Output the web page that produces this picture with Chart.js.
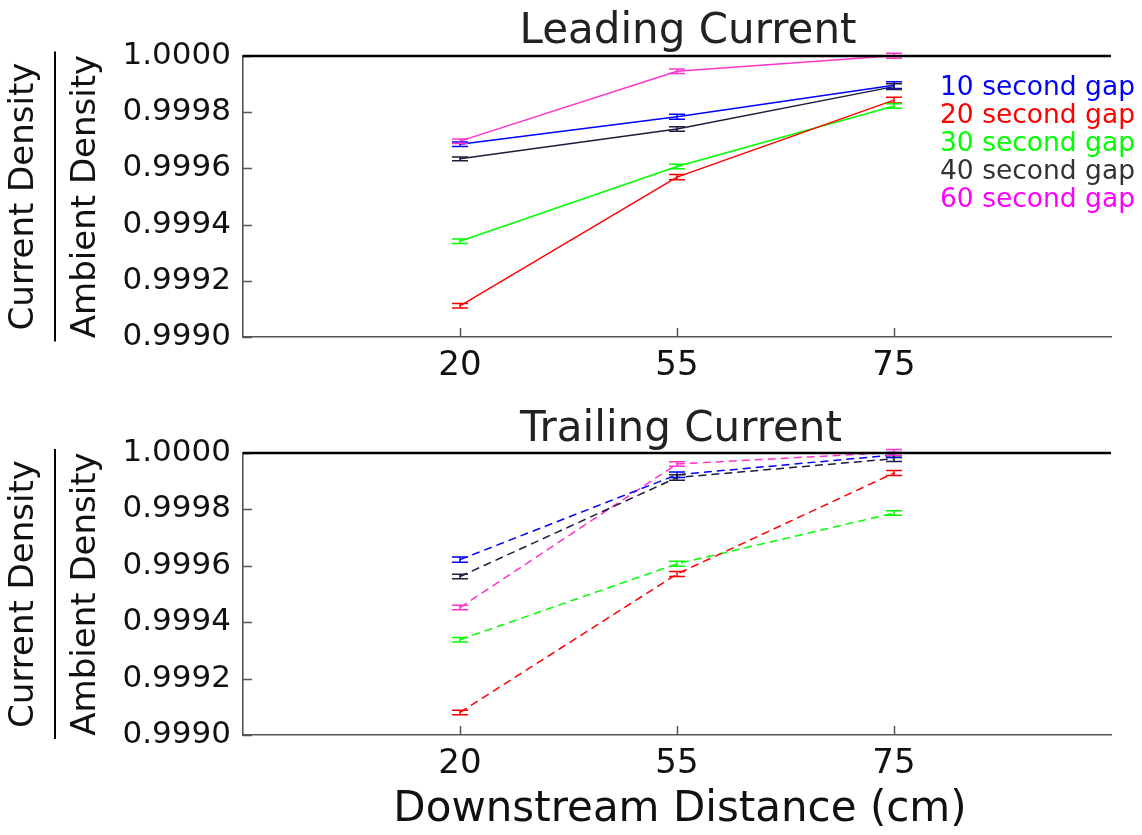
<!DOCTYPE html>
<html>
<head>
<meta charset="utf-8">
<script src="https://cdn.jsdelivr.net/npm/chart.js@4.4.1/dist/chart.umd.min.js"></script>
<style>
  html, body { margin: 0; padding: 0; background: #fff; }
  #wrap { position: relative; width: 1142px; height: 835px; overflow: hidden; }
  .panel { position: absolute; left: 0; width: 1142px; }
</style>
</head>
<body>
<div id="wrap">
  <div class="panel" style="top:0;height:400px"><canvas id="leading" width="1142" height="400"></canvas></div>
  <div class="panel" style="top:400px;height:435px"><canvas id="trailing" width="1142" height="435"></canvas></div>
</div>
<script>
// x categories (downstream distance, cm) and y tick labels
const distances = ['20', '55', '75'];
const yTicks = [0.9990, 0.9992, 0.9994, 0.9996, 0.9998, 1.0000];
const yTickLabels = ['0.9990', '0.9992', '0.9994', '0.9996', '0.9998', '1.0000'];
const gapLabels = ['10 second gap', '20 second gap', '30 second gap', '40 second gap', '60 second gap'];

// Leading current: density ratio at 20, 55, 75 cm
const leading10 = [0.999686, 0.999784, 0.999896];
const leading20 = [0.999111, 0.999569, 0.999843];
const leading30 = [0.999341, 0.999607, 0.999822];
const leading40 = [0.999634, 0.999740, 0.999891];
const leading60 = [0.999697, 0.999946, 1.000001];
const leadingErr10 = [0.000008, 0.000009, 0.000012];
const leadingErr20 = [0.000008, 0.000009, 0.000010];
const leadingErr30 = [0.000008, 0.000008, 0.000008];
const leadingErr40 = [0.000007, 0.000008, 0.000010];
const leadingErr60 = [0.000008, 0.000008, 0.000009];

// Trailing current
const trailing10 = [0.999622, 0.999923, 0.999993];
const trailing20 = [0.999080, 0.999571, 0.999929];
const trailing30 = [0.999338, 0.999607, 0.999787];
const trailing40 = [0.999562, 0.999913, 0.999980];
const trailing60 = [0.999452, 0.999961, 1.000002];
const trailingErr10 = [0.000009, 0.000010, 0.000009];
const trailingErr20 = [0.000008, 0.000009, 0.000009];
const trailingErr30 = [0.000008, 0.000009, 0.000008];
const trailingErr40 = [0.000008, 0.000010, 0.000010];
const trailingErr60 = [0.000008, 0.000008, 0.000010];

const lineColors = ['#0000ff', '#ff0000', '#00ff00', '#1c1c3c', '#ff33cc'];
const legendColors = ['#0000ff', '#ff0000', '#00ff00', '#333333', '#ff00ff'];
const FONT = "'DejaVu Sans', Verdana, sans-serif";
const INK = '#111';

// error bars, frame line at 1.0, inward ticks and all free text
const decor = {
  id: 'decor',
  afterDatasetsDraw(chart, args, opts) {
    const { ctx, chartArea: a, scales: { x, y } } = chart;
    ctx.save();

    chart.data.datasets.forEach(ds => {
      ctx.strokeStyle = ds.borderColor;
      ctx.lineWidth = 1.5;
      ctx.setLineDash([]);
      ds.data.forEach((p, j) => {
        const px = x.getPixelForValue(p.x);
        const top = y.getPixelForValue(p.y + ds.err[j]);
        const bot = y.getPixelForValue(p.y - ds.err[j]);
        ctx.beginPath();
        ctx.moveTo(px, top); ctx.lineTo(px, bot);
        ctx.moveTo(px - 8, top); ctx.lineTo(px + 8, top);
        ctx.moveTo(px - 8, bot); ctx.lineTo(px + 8, bot);
        ctx.stroke();
      });
    });

    // inward tick marks
    ctx.strokeStyle = '#555';
    ctx.lineWidth = 1.5;
    ctx.beginPath();
    y.ticks.forEach(t => {
      const py = Math.round(y.getPixelForValue(t.value)) + 0.5;
      ctx.moveTo(a.left, py); ctx.lineTo(a.left + 9, py);
    });
    x.ticks.forEach(t => {
      const px = Math.round(x.getPixelForValue(t.value)) + 0.5;
      ctx.moveTo(px, a.bottom); ctx.lineTo(px, a.bottom - 9);
    });
    ctx.stroke();

    // black line at 1.0000
    const yOne = y.getPixelForValue(1.0);
    ctx.strokeStyle = '#000';
    ctx.lineWidth = 2.6;
    ctx.beginPath();
    ctx.moveTo(a.left, yOne); ctx.lineTo(a.right, yOne);
    ctx.stroke();

    // title
    ctx.fillStyle = '#222';
    ctx.font = '42px ' + FONT;
    ctx.textAlign = 'center';
    ctx.textBaseline = 'alphabetic';
    ctx.fillText(opts.title, opts.titleX, opts.titleY);

    // y label as a fraction
    const cy = (a.top + a.bottom) / 2;
    ctx.fillStyle = INK;
    ctx.font = '34px ' + FONT;
    ctx.textBaseline = 'middle';
    ctx.save();
    ctx.translate(24, cy); ctx.rotate(-Math.PI / 2);
    ctx.fillText('Current Density', 0, 0);
    ctx.restore();
    ctx.save();
    ctx.translate(86, cy); ctx.rotate(-Math.PI / 2);
    ctx.fillText('Ambient Density', 0, 0);
    ctx.restore();
    ctx.strokeStyle = '#000';
    ctx.lineWidth = 2;
    ctx.beginPath();
    ctx.moveTo(55, cy - 145); ctx.lineTo(55, cy + 145);
    ctx.stroke();

    if (opts.legend) {
      ctx.font = '26.5px ' + FONT;
      ctx.textAlign = 'left';
      ctx.textBaseline = 'alphabetic';
      chart.data.datasets.forEach((ds, i) => {
        ctx.fillStyle = legendColors[i];
        ctx.fillText(ds.label, 940, 95 + i * 28);
      });
    }

    if (opts.xTitle) {
      ctx.fillStyle = INK;
      ctx.font = '42px ' + FONT;
      ctx.textAlign = 'center';
      ctx.textBaseline = 'alphabetic';
      ctx.fillText(opts.xTitle, 680, opts.xTitleY);
    }
    ctx.restore();
  }
};

function makeChart(id, series, errs, dash, cfg) {
  return new Chart(document.getElementById(id), {
    type: 'line',
    data: {
      datasets: series.map((vals, i) => ({
        label: gapLabels[i],
        data: vals.map((v, j) => ({ x: j + 1, y: v })),
        err: errs[i],
        borderColor: lineColors[i],
        borderWidth: 1.5,
        borderDash: dash,
        pointRadius: 0,
        tension: 0,
        fill: false,
        clip: false
      }))
    },
    options: {
      responsive: false,
      animation: false,
      devicePixelRatio: 1,
      layout: { padding: { top: cfg.padTop, right: 31, bottom: 0, left: 0 } },
      plugins: {
        legend: { display: false },
        tooltip: { enabled: false },
        decor: cfg
      },
      scales: {
        x: {
          type: 'linear',
          min: 0,
          max: 4,
          afterBuildTicks: s => { s.ticks = distances.map((d, i) => ({ value: i + 1 })); },
          afterFit: s => { s.height = cfg.xHeight; },
          ticks: {
            callback: v => distances[v - 1],
            font: { family: FONT, size: 34 },
            color: INK,
            padding: 9,
            maxRotation: 0,
            autoSkip: false
          },
          grid: { display: false, drawTicks: false },
          border: { display: true, color: '#555', width: 1.6 }
        },
        y: {
          min: 0.9990,
          max: 1.0000,
          afterBuildTicks: s => { s.ticks = yTicks.map(v => ({ value: v })); },
          afterFit: s => { s.width = 243; },
          ticks: {
            callback: (v, i) => yTickLabels[i],
            font: { family: FONT, size: 31 },
            color: INK,
            padding: 12,
            autoSkip: false
          },
          grid: { display: false, drawTicks: false },
          border: { display: true, color: '#555', width: 1.6 }
        }
      }
    },
    plugins: [decor]
  });
}

makeChart('leading',
  [leading10, leading20, leading30, leading40, leading60],
  [leadingErr10, leadingErr20, leadingErr30, leadingErr40, leadingErr60],
  [],
  { padTop: 56, xHeight: 63, title: 'Leading Current', titleX: 688, titleY: 43, legend: true });

makeChart('trailing',
  [trailing10, trailing20, trailing30, trailing40, trailing60],
  [trailingErr10, trailingErr20, trailingErr30, trailingErr40, trailingErr60],
  [8, 5],
  { padTop: 53, xHeight: 100, title: 'Trailing Current', titleX: 681, titleY: 41, legend: false,
    xTitle: 'Downstream Distance (cm)', xTitleY: 421 });
</script>
</body>
</html>
